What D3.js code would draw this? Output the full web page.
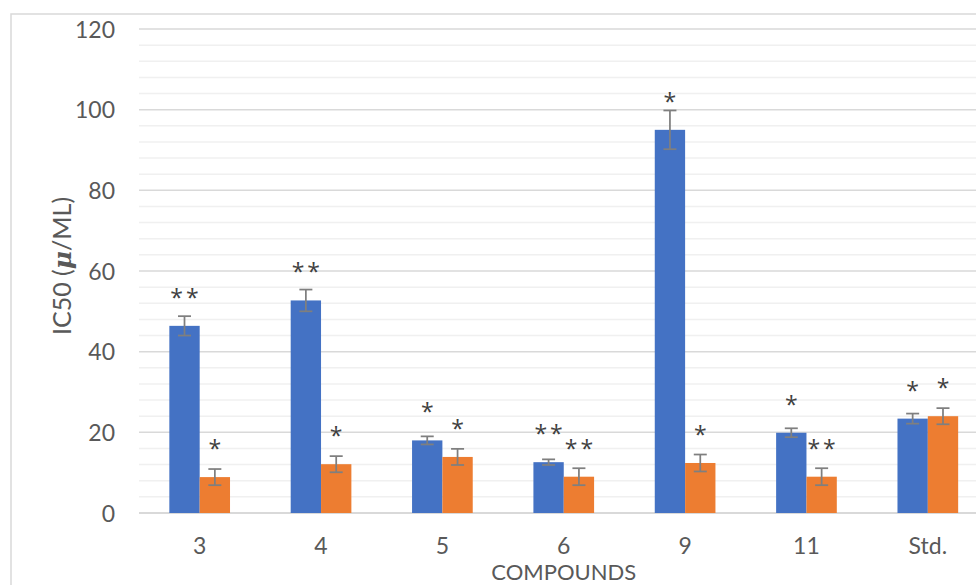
<!DOCTYPE html>
<html>
<head>
<meta charset="utf-8">
<script src="https://cdn.jsdelivr.net/npm/d3@7"></script>
<style>
  body { margin: 0; background: #fff; }
  svg text { font-family: Lato, "Open Sans", sans-serif; fill: #595959; }
</style>
</head>
<body>
<div id="chart"></div>
<script>
var compounds = ["3", "4", "5", "6", "9", "11", "Std."];
var seriesA = [46.4, 52.7, 18.0, 12.6, 95.0, 19.9, 23.4];
var seriesB = [8.9, 12.1, 13.9, 9.0, 12.4, 9.0, 24.0];
var errA = [2.4, 2.7, 1.0, 0.7, 4.8, 1.1, 1.25];
var errB = [2.0, 2.0, 2.0, 2.1, 2.1, 2.1, 2.0];
var starsA = ["**", "**", "*", "**", "*", "*", "*"];
var starsB = ["*", "*", "*", "**", "*", "**", "*"];
var yTicks = [0, 20, 40, 60, 80, 100, 120];

var width = 976, height = 585;
var colors = ["#4472C4", "#ED7D31"];

var svg = d3.select("#chart").append("svg")
    .attr("width", width)
    .attr("height", height);

// chart border (cropped on right and bottom)
svg.append("rect")
    .attr("x", 11).attr("y", 14)
    .attr("width", 1000).attr("height", 620)
    .attr("fill", "none")
    .attr("stroke", "#d9d9d9")
    .attr("stroke-width", 1.5);

var xScale = d3.scaleBand()
    .domain(compounds)
    .range([139, 988.5]);
var bw = xScale.bandwidth();
var inner = d3.scaleBand()
    .domain([0, 1])
    .range([bw / 4, bw * 3 / 4]);
var yScale = d3.scaleLinear()
    .domain([0, 120])
    .range([513, 29]);

// minor gridlines
svg.append("g").selectAll("line")
    .data(d3.range(4, 120, 4).filter(d => d % 20 != 0))
    .enter().append("line")
    .attr("x1", 139).attr("x2", width)
    .attr("y1", d => yScale(d)).attr("y2", d => yScale(d))
    .attr("stroke", "#f0f0f0")
    .attr("stroke-width", 1.5);

// major gridlines
svg.append("g").selectAll("line")
    .data(yTicks)
    .enter().append("line")
    .attr("x1", 139).attr("x2", width)
    .attr("y1", d => yScale(d)).attr("y2", d => yScale(d))
    .attr("stroke", "#d9d9d9")
    .attr("stroke-width", d => d == 0 ? 2 : 1.5);

// y axis labels
var yAxis = d3.axisLeft(yScale).tickValues(yTicks).tickSize(0).tickPadding(0);
var yG = svg.append("g")
    .attr("transform", "translate(115,0)")
    .call(yAxis);
yG.select(".domain").remove();
yG.selectAll("text")
    .attr("font-size", 23)
    .attr("dy", "0.36em")
    .style("font-family", "Lato, sans-serif")
    .attr("fill", "#595959");

// x axis labels
var xAxis = d3.axisBottom(xScale).tickSize(0).tickPadding(0);
var xG = svg.append("g")
    .attr("transform", "translate(0,546)")
    .call(xAxis);
xG.select(".domain").remove();
xG.selectAll("text")
    .attr("font-size", 23)
    .attr("dy", "0.36em")
    .attr("y", 0)
    .style("font-family", "Lato, sans-serif")
    .attr("fill", "#595959");

var rows = [];
for (let i = 0; i < compounds.length; ++i) {
    rows.push({ c: compounds[i], s: 0, v: seriesA[i], e: errA[i], t: starsA[i] });
    rows.push({ c: compounds[i], s: 1, v: seriesB[i], e: errB[i], t: starsB[i] });
}

var barG = svg.append("g");
barG.selectAll("rect")
    .data(rows)
    .enter().append("rect")
    .attr("x", d => xScale(d.c) + inner(d.s))
    .attr("y", d => yScale(d.v))
    .attr("width", inner.bandwidth())
    .attr("height", d => yScale(0) - yScale(d.v))
    .attr("fill", d => colors[d.s]);

// error bars
var cx = d => xScale(d.c) + inner(d.s) + inner.bandwidth() / 2;
var errG = svg.append("g")
    .attr("stroke", "#7f7f7f")
    .attr("stroke-width", 1.75);
errG.selectAll(".stem")
    .data(rows)
    .enter().append("line")
    .attr("x1", cx).attr("x2", cx)
    .attr("y1", d => yScale(d.v + d.e))
    .attr("y2", d => yScale(d.v - d.e));
errG.selectAll(".capT")
    .data(rows)
    .enter().append("line")
    .attr("x1", d => cx(d) - 6.5).attr("x2", d => cx(d) + 6.5)
    .attr("y1", d => yScale(d.v + d.e))
    .attr("y2", d => yScale(d.v + d.e));
errG.selectAll(".capB")
    .data(rows)
    .enter().append("line")
    .attr("x1", d => cx(d) - 6.5).attr("x2", d => cx(d) + 6.5)
    .attr("y1", d => yScale(d.v - d.e))
    .attr("y2", d => yScale(d.v - d.e));

// significance stars
svg.append("g").selectAll("text")
    .data(rows)
    .enter().append("text")
    .attr("x", cx)
    .attr("dx", 1.5)
    .attr("y", d => yScale(d.v) - 20)
    .attr("text-anchor", "middle")
    .attr("font-size", 23)
    .attr("letter-spacing", 3)
    .style("font-family", "'Open Sans', sans-serif")
    .style("fill", "#404040")
    .text(d => d.t);

// axis titles
svg.append("text")
    .attr("x", (139 + 988.5) / 2)
    .attr("y", 580)
    .attr("text-anchor", "middle")
    .attr("font-size", 22)
    .text("COMPOUNDS");

var yTitle = svg.append("text")
    .attr("transform", "translate(71,266) rotate(-90)")
    .attr("text-anchor", "middle")
    .attr("font-size", 25);
yTitle.append("tspan").text("IC50 (");
yTitle.append("tspan")
    .style("font-family", "'DejaVu Serif', serif")
    .attr("font-style", "italic")
    .attr("font-weight", "bold")
    .text("μ");
yTitle.append("tspan").text("/ML)");
</script>
</body>
</html>
